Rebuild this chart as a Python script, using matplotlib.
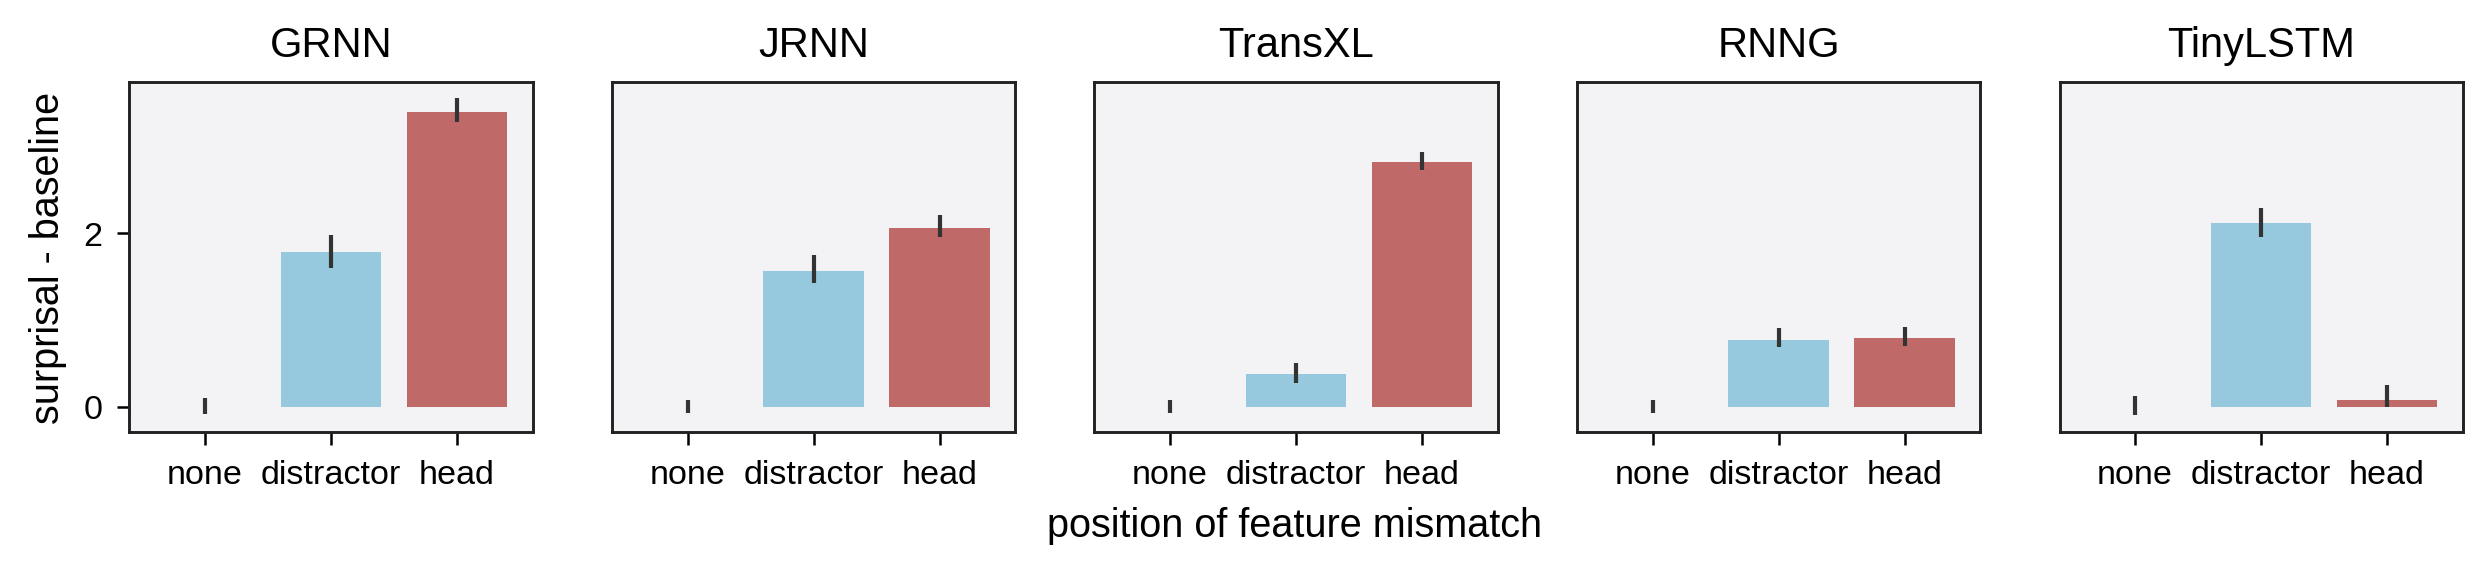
import numpy as np
import matplotlib.pyplot as plt

plt.rcParams['font.family'] = ['Liberation Sans', 'DejaVu Sans']

models = ['GRNN', 'JRNN', 'TransXL', 'RNNG', 'TinyLSTM']
positions = ['none', 'distractor', 'head']
means = [[0.0, 1.78, 3.39],
         [0.0, 1.56, 2.05],
         [0.0, 0.37, 2.81],
         [0.0, 0.77, 0.79],
         [0.0, 2.11, 0.08]]
err_lo = [[-0.08, 1.60, 3.28],
          [-0.07, 1.42, 1.95],
          [-0.07, 0.27, 2.72],
          [-0.07, 0.68, 0.70],
          [-0.10, 1.95, 0.00]]
err_hi = [[0.10, 1.98, 3.55],
          [0.07, 1.75, 2.20],
          [0.08, 0.50, 2.93],
          [0.07, 0.90, 0.92],
          [0.12, 2.28, 0.25]]
colors = ['#8fc5dc', '#96c9de', '#bf6a69']

fig, axes = plt.subplots(1, 5, figsize=(8.3, 1.923), dpi=300, sharey=True)
fig.subplots_adjust(left=0.052, right=0.989, top=0.857, bottom=0.25, wspace=0.197)

x = np.arange(3)
for i, ax in enumerate(axes):
    ax.set_facecolor('#f3f3f5')
    ax.bar(x, means[i], width=0.8, color=colors)
    ax.vlines(x, err_lo[i], err_hi[i], color='#333333', lw=1.0)
    ax.set_xticks(x)
    ax.set_xticklabels(positions, fontsize=8.2)
    ax.set_title(models[i], fontsize=10)
    ax.set_xlim(-0.6, 2.6)
    ax.tick_params(axis='both', labelsize=8.2, length=3, width=0.6)
    for s in ax.spines.values():
        s.set_linewidth(0.7)
        s.set_color('#222222')
    if i > 0:
        ax.tick_params(axis='y', left=False)

axes[0].set_ylim(-0.29, 3.74)
axes[0].set_yticks([0, 2])
axes[0].set_ylabel('surprisal - baseline', fontsize=9.5)
fig.text(0.52, 0.07, 'position of feature mismatch', ha='center', fontsize=9.5)

fig.savefig('out.png', dpi=300)
